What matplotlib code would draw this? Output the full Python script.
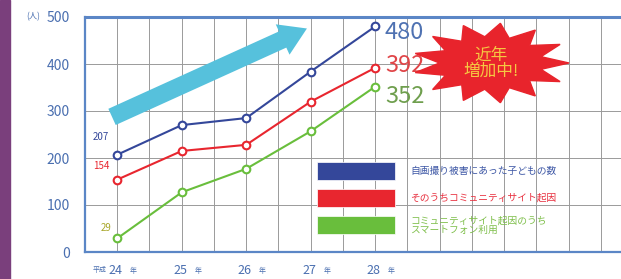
import numpy as np
import matplotlib.pyplot as plt
from matplotlib.patches import Polygon, Rectangle

plt.rcParams['font.family'] = ['Noto Sans CJK JP', 'DejaVu Sans']

years = [24, 25, 26, 27, 28]
year_labels = ['平成24年', '25年', '26年', '27年', '28年']
victims = [207, 270, 285, 384, 480]
community = [154, 215, 228, 320, 392]
smartphone = [29, 127, 177, 257, 352]
legend_labels = ['自画撮り被害にあった子どもの数', 'そのうちコミュニティサイト起因',
                 'コミュニティサイト起因のうち\nスマートフォン利用']

blue = '#34479a'
red = '#e8262f'
green = '#69be3c'
axis_blue = '#5b86c6'

fig = plt.figure(figsize=(6.21, 2.79), dpi=100)
fig.patch.set_facecolor('white')
fig.add_artist(Rectangle((0, 0), 10/621, 1, transform=fig.transFigure,
                         color='#7a3f7c', zorder=0))

ax = fig.add_axes([85/621, 1-252/279, 1-85/621, 235/279])
ax.set_xlim(23.5, 23.5 + 536/64.5)
ax.set_ylim(0, 500)

# grid
for gx in np.arange(24, 32, 0.5):
    ax.axvline(gx, color='#9a9a9a', lw=0.7, zorder=1)
for gy in [100, 200, 300, 400]:
    ax.axhline(gy, color='#9a9a9a', lw=0.7, zorder=1)

for s in ['top', 'bottom', 'left']:
    ax.spines[s].set_color(axis_blue)
    ax.spines[s].set_linewidth(1.6)
ax.spines['right'].set_visible(False)
ax.spines['top'].set_linewidth(2.2)

ax.set_yticks([0, 100, 200, 300, 400, 500])
ax.set_xticks([])
ax.tick_params(axis='y', length=0, labelsize=10, labelcolor='#4a6fb0', pad=11)
ax.text(-0.11, 500, '(人)', transform=ax.get_yaxis_transform(), fontsize=6,
        color='#4a6fb0', ha='left', va='center')

for y, lab in zip(years, year_labels):
    if lab.startswith('平成'):
        ax.annotate('平成', (y, 0), xytext=(-8, -13), textcoords='offset points',
                    fontsize=5, color='#4a6fb0', ha='right', va='center',
                    annotation_clip=False)
        num = '24'
    else:
        num = lab[:-1]
    ax.annotate(num, (y, 0), xytext=(-1, -13), textcoords='offset points',
                fontsize=9, color='#4a6fb0', ha='center', va='center',
                annotation_clip=False)
    ax.annotate('年', (y, 0), xytext=(9, -14), textcoords='offset points',
                fontsize=5, color='#4a6fb0', ha='left', va='center',
                annotation_clip=False)

# arrow
ax.annotate('', xy=(26.98, 478), xytext=(23.88, 285),
            arrowprops=dict(arrowstyle='simple,head_length=1.2,head_width=1.5,tail_width=0.8',
                            color='#56c1dc', lw=0, mutation_scale=16), zorder=2)

for vals, c in [(victims, blue), (community, red), (smartphone, green)]:
    ax.plot(years, vals, color=c, lw=1.5, marker='o', ms=5.5, mfc='white',
            mec=c, mew=1.5, zorder=4)

ax.text(23.75, 245, str(victims[0]), color=blue, fontsize=7, ha='center', va='center')
ax.text(23.75, 183, str(community[0]), color=red, fontsize=7, ha='center', va='center')
ax.text(23.82, 51, str(smartphone[0]), color='#a8a628', fontsize=7, ha='center', va='center')

ax.text(28.15, 466, str(victims[-1]), color='#4f72b2', fontsize=17, ha='left', va='center')
ax.text(28.15, 396, str(community[-1]), color='#e04548', fontsize=17, ha='left', va='center')
ax.text(28.15, 330, str(smartphone[-1]), color='#6f9f4e', fontsize=17, ha='left', va='center')

# starburst
n = 13
ang = np.linspace(0, 2*np.pi, 2*n, endpoint=False)
rad = np.where(np.arange(2*n) % 2 == 0, 1.0, 0.66)
cx, cy = 491, 63
sx, sy = 78, 40
pts = np.column_stack([cx + sx*rad*np.cos(ang), cy + sy*rad*np.sin(ang)])
pts_fig = np.column_stack([pts[:, 0]/621, 1 - pts[:, 1]/279])
fig.add_artist(Polygon(pts_fig, closed=True, transform=fig.transFigure,
                       facecolor='#e8242c', edgecolor='#e8242c', zorder=5))
fig.text(cx/621, 1-cy/279, '近年\n増加中!', color='#f5c842', fontsize=12,
         ha='center', va='center', linespacing=0.95, zorder=6)

# legend
for i, (lab, c) in enumerate(zip(legend_labels, [blue, red, green])):
    top = 162 + i*27
    fig.add_artist(Rectangle((317/621, 1-(top+18)/279), 78/621, 18/279,
                             transform=fig.transFigure, facecolor=c,
                             edgecolor='white', lw=0.5, zorder=5))
    tc = {blue: '#3d57a5', red: '#e8303f', green: '#7fbf4b'}[c]
    fig.text(410/621, 1-(top+9)/279, lab, color=tc, fontsize=7, ha='left',
             va='center', linespacing=0.95, zorder=6)

fig.savefig('out.png', dpi=100)
